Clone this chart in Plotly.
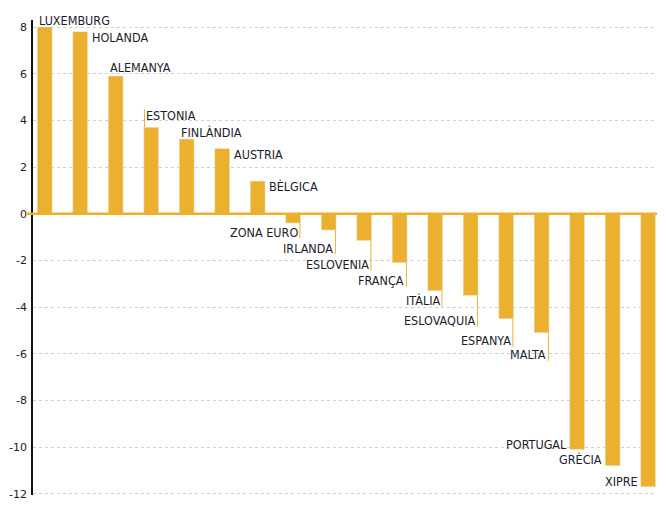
import plotly.graph_objects as go

# countries, ordered as in the chart
countries = ["LUXEMBURG", "HOLANDA", "ALEMANYA", "ESTONIA", "FINLÀNDIA", "AUSTRIA",
             "BÈLGICA", "ZONA EURO", "IRLANDA", "ESLOVENIA", "FRANÇA", "ITÀLIA",
             "ESLOVAQUIA", "ESPANYA", "MALTA", "PORTUGAL", "GRÈCIA", "XIPRE"]
values = [8.0, 7.8, 5.9, 3.7, 3.2, 2.8, 1.4, -0.4, -0.7, -1.15, -2.1, -3.3,
          -3.5, -4.5, -5.1, -10.1, -10.8, -11.7]
y_ticks = [8, 6, 4, 2, 0, -2, -4, -6, -8, -10, -12]

# label placement: side of bar, vertical pixel offset from bar end, leader line
label_side = ["left", "right", "left", "left", "left", "right", "right",
              "below", "below", "below", "below", "below", "below", "below", "below",
              "before", "before", "before"]
label_dy = [7, -6, 9, 12, 7, -6, -5, -9, -18, -24, -18, -10, -25, -22, -22, 5, 6, 5]
leader = [False, False, False, True, False, False, False,
          True, True, True, True, True, True, True, True, False, False, False]

bar_color = "#ebb12e"
text_color = "#1c1c2c"
half_w = 0.21
px_per_unit = 23.3

x_idx = list(range(len(countries)))

fig = go.Figure(go.Bar(x=x_idx, y=values, marker_color=bar_color, width=2 * half_w,
                       hoverinfo="skip"))

for i, (name, v, side, dy, ld) in enumerate(zip(countries, values, label_side, label_dy, leader)):
    if side == "left":
        ax, anchor, xs = i - half_w, "left", 0
    elif side == "right":
        ax, anchor, xs = i + half_w, "left", 2
    elif side == "below":
        ax, anchor, xs = i + half_w, "right", -1
    else:
        ax, anchor, xs = i - half_w, "right", -1
    fig.add_annotation(x=ax, y=v, text=name, showarrow=False, xanchor=anchor,
                       yanchor="middle", xshift=xs, yshift=dy,
                       font=dict(family="DejaVu Sans Condensed, Liberation Sans",
                                 size=12.5, color=text_color))
    if ld:
        lx = i - half_w + 0.02 if v > 0 else i + half_w - 0.02
        end = v + (dy + 6 * (1 if v > 0 else -1)) / px_per_unit
        fig.add_shape(type="line", x0=lx, x1=lx, y0=v, y1=end, xref="x", yref="y",
                      line=dict(color=bar_color, width=1))

# zero line, slightly extending left of the axis
fig.add_shape(type="line", xref="paper", yref="y", x0=-0.01, x1=1, y0=0, y1=0,
              line=dict(color=bar_color, width=2.5), layer="above")

# page body adds an 8px margin, so the figure is a bit smaller than the window
fig.update_layout(
    width=658, height=497,
    margin=dict(l=25, r=9, t=12, b=10),
    plot_bgcolor="white", paper_bgcolor="white",
    showlegend=False,
    bargap=0.58,
    xaxis=dict(range=[-0.33, 17.25], showticklabels=False, showgrid=False,
               zeroline=False, showline=False, automargin=False),
    yaxis=dict(range=[-12.05, 8.3], tickvals=y_ticks, ticktext=[str(t) for t in y_ticks],
               showgrid=True, gridcolor="#d0d0d0", griddash="dot", gridwidth=1,
               zeroline=False, showline=True, linecolor="#111111", linewidth=1.5,
               ticklabelstandoff=2, automargin=False,
               tickfont=dict(family="DejaVu Sans", size=11, color=text_color)),
)

fig.write_html("out.html")
